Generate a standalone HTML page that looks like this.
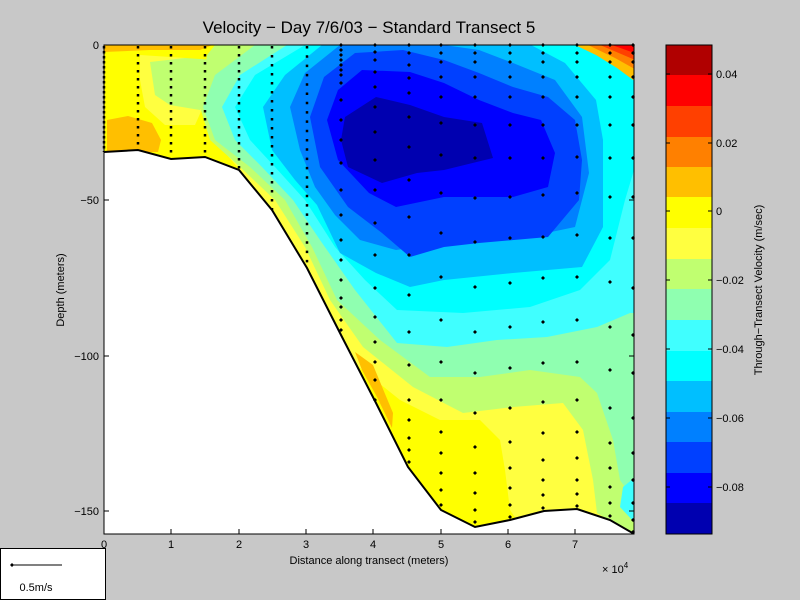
<!DOCTYPE html>
<html><head><meta charset="utf-8"><style>
body{margin:0;background:#c8c8c8;}
svg{display:block;font-family:"Liberation Sans",sans-serif;}
</style></head><body>
<svg width="800" height="600" viewBox="0 0 800 600" xmlns="http://www.w3.org/2000/svg">
<rect width="800" height="600" fill="#c8c8c8"/>
<defs>
<clipPath id="cp"><rect x="104" y="45" width="530" height="489"/></clipPath>
<path id="d" d="M0 -2L2 0L0 2L-2 0Z" fill="#000"/>
</defs>
<g clip-path="url(#cp)">
<rect x="100" y="40" width="540" height="500" fill="#ffff40"/>
<polygon fill="#ffff00" points="104,45 279,45 245,60 214,80 203,107 214,140 240,170 104,152"/>
<polygon fill="#ffff40" points="140,55 186,58 210,75 203,107 195,125 165,125 145,107 140,80"/>
<polygon fill="#ffbf00" points="104,44 215,44 200,50 150,50 104,52"/>
<polygon fill="#c0ff70" points="150,62 185,58 215,60 210,90 200,110 170,105 155,95"/>
<polygon fill="#ffbf00" points="107,120 128,116 152,123 161,140 158,152 107,152"/>
<polygon fill="#ffff00" points="350,360 400,400 440,420 480,420 500,440 505,470 510,510 530,540 330,540"/>
<polygon fill="#ffbf00" points="355,352 373,365 393,413 392,428 377,397 362,370"/>
<polygon fill="#c0ff70" points="215,40 215,45 207,55 200,107 210,140 240,167 275,200 305,247 330,300 363,347 413,387 463,413 513,407 563,403 583,430 593,480 597,513 634,535 640,535 640,40"/>
<polygon fill="#8fffb0" points="255,40 255,45 215,75 203,107 215,140 250,167 285,200 312,247 337,300 380,340 430,377 480,377 530,370 580,377 597,393 613,440 620,480 634,500 640,500 640,40"/>
<polygon fill="#40ffff" points="623,487 634,478 634,522 620,507"/>
<polygon fill="#40ffff" points="287,40 287,45 240,75 222,107 235,140 262,167 293,200 320,240 355,290 397,343 447,347 497,340 547,337 597,327 630,313 640,313 640,40"/>
<polygon fill="#00ffff" points="305,40 305,45 255,75 235,107 250,140 275,167 305,200 335,247 365,280 397,310 463,313 530,307 580,290 610,260 625,200 634,170 640,170 640,40"/>
<polygon fill="#00bfff" points="322,40 322,45 285,75 263,107 272,150 295,180 317,205 340,253 376,273 410,287 444,280 513,273 582,267 603,227 603,140 596,100 565,63 531,45 531,40"/>
<polygon fill="#0080ff" points="340,40 340,45 305,73 290,107 300,150 315,187 335,215 360,240 396,250 444,243 513,240 575,227 589,173 582,117 555,80 513,63 479,50 444,45 444,40"/>
<polygon fill="#0040ff" points="355,53 324,77 310,117 320,167 348,207 382,233 410,257 444,247 479,243 548,237 579,200 582,160 575,120 548,97 513,87 479,73 444,60 403,50"/>
<polygon fill="#0000ff" points="362,70 338,90 327,120 338,160 369,193 396,207 444,197 513,197 548,187 555,153 541,120 513,113 479,100 444,83 410,72"/>
<polygon fill="#0000b0" points="376,97 345,117 341,140 348,167 382,183 417,173 444,170 493,158 482,123 444,117 410,105"/>
<polygon fill="#ffbf00" points="575,45 640,45 640,85 617,68 596,55"/>
<polygon fill="#ff8000" points="588,45 640,45 640,72 615,58"/>
<polygon fill="#ff4000" points="600,45 640,45 640,62"/>
<polygon fill="#ff0000" points="612,45 640,45 640,55"/>
<polygon fill="#ffffff" stroke="#000" stroke-width="2" points="103,152 138,150 171,159 205,157 239,170 272,210 307,268 341,335 376,403 408,467 441,510 475,527 510,520 544,511 577,509 610,520 636,535 636,560 90,560 90,152"/>
</g>
<g stroke="#000" stroke-width="2.5">
<line x1="104" y1="46" x2="104" y2="152" stroke-dasharray="2.5 2.5"/>
<line x1="138" y1="46" x2="138" y2="150" stroke-dasharray="2.5 5.5"/>
<line x1="171" y1="46" x2="171" y2="159" stroke-dasharray="2.5 5.5"/>
<line x1="205" y1="46" x2="205" y2="157" stroke-dasharray="2.5 5.5"/>
<line x1="239" y1="46" x2="239" y2="170" stroke-dasharray="2.5 5.5"/>
<line x1="272" y1="46" x2="272" y2="210" stroke-dasharray="2.5 6.5"/>
<line x1="307" y1="46" x2="307" y2="268" stroke-dasharray="2.5 6.8"/>
</g>
<g>
<use href="#d" x="341" y="45"/><use href="#d" x="341" y="50"/><use href="#d" x="341" y="55"/><use href="#d" x="341" y="60"/><use href="#d" x="341" y="65"/><use href="#d" x="341" y="70"/><use href="#d" x="341" y="75"/><use href="#d" x="341" y="83"/><use href="#d" x="341" y="100"/><use href="#d" x="341" y="120"/><use href="#d" x="341" y="140"/><use href="#d" x="341" y="163"/><use href="#d" x="341" y="190"/><use href="#d" x="341" y="215"/><use href="#d" x="341" y="240"/><use href="#d" x="341" y="260"/><use href="#d" x="341" y="280"/><use href="#d" x="341" y="298"/><use href="#d" x="341" y="307"/><use href="#d" x="341" y="320"/><use href="#d" x="341" y="330"/>
<use href="#d" x="375" y="45"/><use href="#d" x="375" y="52"/><use href="#d" x="375" y="60"/><use href="#d" x="375" y="72"/><use href="#d" x="375" y="87"/><use href="#d" x="375" y="107"/><use href="#d" x="375" y="132"/><use href="#d" x="375" y="160"/><use href="#d" x="375" y="190"/><use href="#d" x="375" y="223"/><use href="#d" x="375" y="255"/><use href="#d" x="375" y="288"/><use href="#d" x="375" y="317"/><use href="#d" x="375" y="342"/><use href="#d" x="375" y="362"/><use href="#d" x="375" y="380"/><use href="#d" x="375" y="400"/>
<use href="#d" x="409" y="45"/><use href="#d" x="409" y="53"/><use href="#d" x="409" y="65"/><use href="#d" x="409" y="78"/><use href="#d" x="409" y="93"/><use href="#d" x="409" y="117"/><use href="#d" x="409" y="147"/><use href="#d" x="409" y="180"/><use href="#d" x="409" y="217"/><use href="#d" x="409" y="255"/><use href="#d" x="409" y="295"/><use href="#d" x="409" y="332"/><use href="#d" x="409" y="365"/><use href="#d" x="409" y="400"/><use href="#d" x="409" y="420"/><use href="#d" x="409" y="438"/><use href="#d" x="409" y="450"/><use href="#d" x="409" y="462"/>
<use href="#d" x="441" y="45"/><use href="#d" x="441" y="53"/><use href="#d" x="441" y="62"/><use href="#d" x="441" y="77"/><use href="#d" x="441" y="97"/><use href="#d" x="441" y="123"/><use href="#d" x="441" y="155"/><use href="#d" x="441" y="193"/><use href="#d" x="441" y="233"/><use href="#d" x="441" y="277"/><use href="#d" x="441" y="320"/><use href="#d" x="441" y="362"/><use href="#d" x="441" y="400"/><use href="#d" x="441" y="432"/><use href="#d" x="441" y="453"/><use href="#d" x="441" y="473"/><use href="#d" x="441" y="490"/><use href="#d" x="441" y="505"/>
<use href="#d" x="475" y="45"/><use href="#d" x="475" y="53"/><use href="#d" x="475" y="62"/><use href="#d" x="475" y="77"/><use href="#d" x="475" y="97"/><use href="#d" x="475" y="125"/><use href="#d" x="475" y="158"/><use href="#d" x="475" y="198"/><use href="#d" x="475" y="242"/><use href="#d" x="475" y="287"/><use href="#d" x="475" y="332"/><use href="#d" x="475" y="373"/><use href="#d" x="475" y="413"/><use href="#d" x="475" y="447"/><use href="#d" x="475" y="473"/><use href="#d" x="475" y="493"/><use href="#d" x="475" y="510"/><use href="#d" x="475" y="522"/>
<use href="#d" x="510" y="45"/><use href="#d" x="510" y="53"/><use href="#d" x="510" y="62"/><use href="#d" x="510" y="77"/><use href="#d" x="510" y="97"/><use href="#d" x="510" y="125"/><use href="#d" x="510" y="158"/><use href="#d" x="510" y="197"/><use href="#d" x="510" y="238"/><use href="#d" x="510" y="283"/><use href="#d" x="510" y="327"/><use href="#d" x="510" y="368"/><use href="#d" x="510" y="408"/><use href="#d" x="510" y="442"/><use href="#d" x="510" y="468"/><use href="#d" x="510" y="488"/><use href="#d" x="510" y="505"/><use href="#d" x="510" y="517"/>
<use href="#d" x="543" y="45"/><use href="#d" x="543" y="53"/><use href="#d" x="543" y="62"/><use href="#d" x="543" y="77"/><use href="#d" x="543" y="97"/><use href="#d" x="543" y="125"/><use href="#d" x="543" y="158"/><use href="#d" x="543" y="195"/><use href="#d" x="543" y="237"/><use href="#d" x="543" y="278"/><use href="#d" x="543" y="322"/><use href="#d" x="543" y="363"/><use href="#d" x="543" y="402"/><use href="#d" x="543" y="433"/><use href="#d" x="543" y="460"/><use href="#d" x="543" y="480"/><use href="#d" x="543" y="495"/><use href="#d" x="543" y="508"/>
<use href="#d" x="577" y="45"/><use href="#d" x="577" y="53"/><use href="#d" x="577" y="62"/><use href="#d" x="577" y="77"/><use href="#d" x="577" y="97"/><use href="#d" x="577" y="125"/><use href="#d" x="577" y="157"/><use href="#d" x="577" y="193"/><use href="#d" x="577" y="235"/><use href="#d" x="577" y="277"/><use href="#d" x="577" y="320"/><use href="#d" x="577" y="362"/><use href="#d" x="577" y="400"/><use href="#d" x="577" y="432"/><use href="#d" x="577" y="458"/><use href="#d" x="577" y="480"/><use href="#d" x="577" y="494"/><use href="#d" x="577" y="506"/>
<use href="#d" x="610" y="45"/><use href="#d" x="610" y="53"/><use href="#d" x="610" y="62"/><use href="#d" x="610" y="77"/><use href="#d" x="610" y="97"/><use href="#d" x="610" y="125"/><use href="#d" x="610" y="158"/><use href="#d" x="610" y="197"/><use href="#d" x="610" y="238"/><use href="#d" x="610" y="282"/><use href="#d" x="610" y="327"/><use href="#d" x="610" y="370"/><use href="#d" x="610" y="408"/><use href="#d" x="610" y="443"/><use href="#d" x="610" y="468"/><use href="#d" x="610" y="487"/><use href="#d" x="610" y="503"/><use href="#d" x="610" y="516"/>
<use href="#d" x="633" y="45"/><use href="#d" x="633" y="53"/><use href="#d" x="633" y="62"/><use href="#d" x="633" y="77"/><use href="#d" x="633" y="97"/><use href="#d" x="633" y="125"/><use href="#d" x="633" y="158"/><use href="#d" x="633" y="197"/><use href="#d" x="633" y="238"/><use href="#d" x="633" y="288"/><use href="#d" x="633" y="335"/><use href="#d" x="633" y="373"/><use href="#d" x="633" y="418"/><use href="#d" x="633" y="453"/><use href="#d" x="633" y="480"/><use href="#d" x="633" y="503"/><use href="#d" x="633" y="520"/><use href="#d" x="633" y="532"/>
</g>
<rect x="104" y="45" width="530" height="489" fill="none" stroke="#000" stroke-width="1"/>
<g stroke="#000" stroke-width="1">
<line x1="104" y1="200" x2="109" y2="200"/><line x1="104" y1="356" x2="109" y2="356"/><line x1="104" y1="511" x2="109" y2="511"/>
<line x1="629" y1="200" x2="634" y2="200"/><line x1="629" y1="356" x2="634" y2="356"/><line x1="629" y1="511" x2="634" y2="511"/>
<line x1="171" y1="534" x2="171" y2="529"/><line x1="239" y1="534" x2="239" y2="529"/><line x1="306" y1="534" x2="306" y2="529"/><line x1="373" y1="534" x2="373" y2="529"/><line x1="441" y1="534" x2="441" y2="529"/><line x1="508" y1="534" x2="508" y2="529"/><line x1="575" y1="534" x2="575" y2="529"/>
</g>
<g font-size="11" fill="#000" text-anchor="end">
<text x="99" y="49">0</text><text x="99" y="204">−50</text><text x="99" y="360">−100</text><text x="99" y="515">−150</text>
</g>
<g font-size="11" fill="#000" text-anchor="middle">
<text x="104" y="548">0</text><text x="171" y="548">1</text><text x="239" y="548">2</text><text x="306" y="548">3</text><text x="373" y="548">4</text><text x="441" y="548">5</text><text x="508" y="548">6</text><text x="575" y="548">7</text>
</g>
<text x="369" y="564" font-size="11" text-anchor="middle">Distance along transect (meters)</text>
<text x="602" y="573" font-size="11">× 10<tspan font-size="8" dy="-5">4</tspan></text>
<text transform="translate(64,290) rotate(-90)" font-size="11" text-anchor="middle">Depth (meters)</text>
<text x="369" y="33" font-size="17" text-anchor="middle">Velocity − Day 7/6/03 − Standard Transect 5</text>
<g>
<rect x="666" y="45" width="46" height="30" fill="#b00000"/>
<rect x="666" y="75" width="46" height="31" fill="#ff0000"/>
<rect x="666" y="106" width="46" height="31" fill="#ff4000"/>
<rect x="666" y="137" width="46" height="30" fill="#ff8000"/>
<rect x="666" y="167" width="46" height="30" fill="#ffbf00"/>
<rect x="666" y="197" width="46" height="31" fill="#ffff00"/>
<rect x="666" y="228" width="46" height="31" fill="#ffff40"/>
<rect x="666" y="259" width="46" height="30" fill="#c0ff70"/>
<rect x="666" y="289" width="46" height="31" fill="#8fffb0"/>
<rect x="666" y="320" width="46" height="31" fill="#40ffff"/>
<rect x="666" y="351" width="46" height="30" fill="#00ffff"/>
<rect x="666" y="381" width="46" height="31" fill="#00bfff"/>
<rect x="666" y="412" width="46" height="30" fill="#0080ff"/>
<rect x="666" y="442" width="46" height="31" fill="#0040ff"/>
<rect x="666" y="473" width="46" height="30" fill="#0000ff"/>
<rect x="666" y="503" width="46" height="31" fill="#0000b0"/>
<rect x="666" y="45" width="46" height="489" fill="none" stroke="#000"/>
<g stroke="#000">
<line x1="666" y1="74" x2="670" y2="74"/><line x1="708" y1="74" x2="712" y2="74"/>
<line x1="666" y1="143" x2="670" y2="143"/><line x1="708" y1="143" x2="712" y2="143"/>
<line x1="666" y1="211" x2="670" y2="211"/><line x1="708" y1="211" x2="712" y2="211"/>
<line x1="666" y1="280" x2="670" y2="280"/><line x1="708" y1="280" x2="712" y2="280"/>
<line x1="666" y1="349" x2="670" y2="349"/><line x1="708" y1="349" x2="712" y2="349"/>
<line x1="666" y1="418" x2="670" y2="418"/><line x1="708" y1="418" x2="712" y2="418"/>
<line x1="666" y1="487" x2="670" y2="487"/><line x1="708" y1="487" x2="712" y2="487"/>
</g>
<g font-size="11">
<text x="716" y="78">0.04</text><text x="716" y="147">0.02</text><text x="716" y="215">0</text>
<text x="716" y="284">−0.02</text><text x="716" y="353">−0.04</text><text x="716" y="422">−0.06</text><text x="716" y="491">−0.08</text>
</g>
<text transform="translate(762,290) rotate(-90)" font-size="11" text-anchor="middle">Through−Transect Velocity (m/sec)</text>
</g>
<rect x="0.5" y="548.5" width="105" height="51" fill="#fff" stroke="#000"/>
<line x1="12" y1="565" x2="62" y2="565" stroke="#000"/>
<use href="#d" x="12" y="565"/>
<text x="36" y="591" font-size="11" text-anchor="middle">0.5m/s</text>
</svg>
</body></html>
